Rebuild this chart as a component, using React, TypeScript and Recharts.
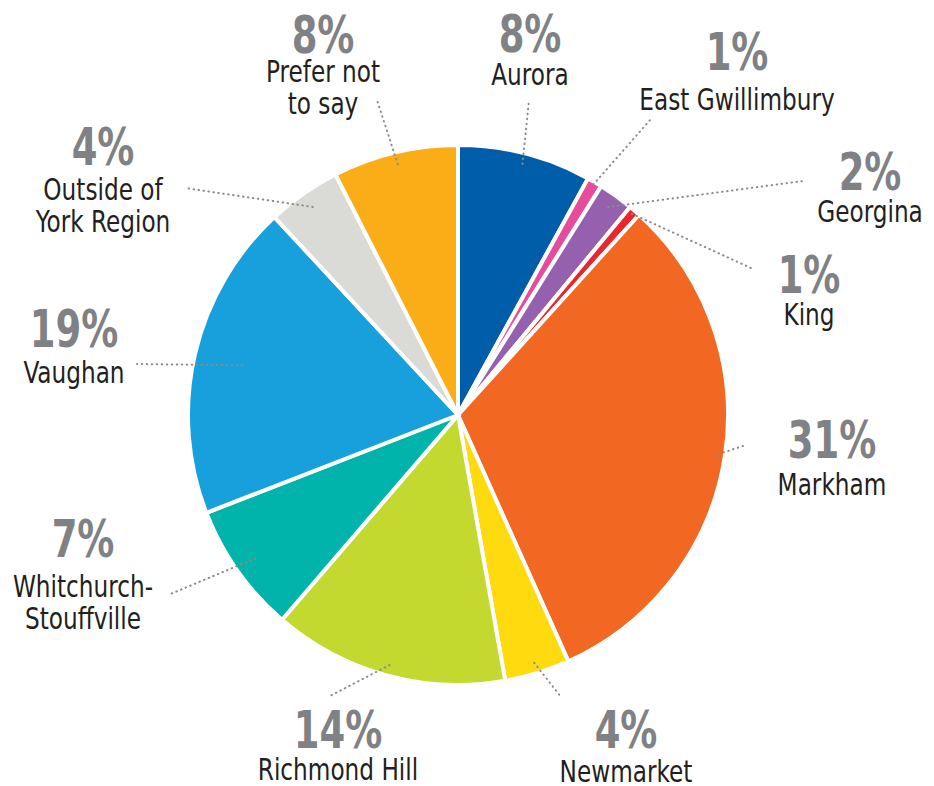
import { Cell, Pie, PieChart } from 'recharts';

const names = [
  'Aurora',
  'East Gwillimbury',
  'Georgina',
  'King',
  'Markham',
  'Newmarket',
  'Richmond Hill',
  'Whitchurch-\nStouffville',
  'Vaughan',
  'Outside of\nYork Region',
  'Prefer not\nto say',
];
const shares = [8, 0.9, 2.1, 0.7, 31.6, 3.9, 14.1, 7.8, 19, 4.4, 7.5];
const shareLabels = ['8%', '1%', '2%', '1%', '31%', '4%', '14%', '7%', '19%', '4%', '8%'];
const colors = [
  '#005DAA',
  '#E54C9C',
  '#9560AD',
  '#E8262B',
  '#F26822',
  '#FFDA0F',
  '#C3D930',
  '#00B4AC',
  '#17A0DB',
  '#DADAD6',
  '#FBAD18',
];

// label placement: leader start radius (fraction of R), leader end, text x, baselines
const labelLayout = [
  { r: 0.96, end: [529, 100], x: 530, pctY: 52, nameY: 85 },
  { r: 0.99, end: [651, 119], x: 737, pctY: 70, nameY: 110 },
  { r: 0.95, end: [803, 181], x: 870, pctY: 190, nameY: 222 },
  { r: 0.985, end: [751, 268], x: 809, pctY: 293, nameY: 325 },
  { r: 0.96, end: [746, 445], x: 832, pctY: 458, nameY: 495 },
  { r: 0.96, end: [561, 697], x: 626, pctY: 748, nameY: 782 },
  { r: 0.96, end: [328, 697], x: 338, pctY: 748, nameY: 780 },
  { r: 0.92, end: [168, 595], x: 83, pctY: 557, nameY: 597 },
  { r: 0.82, end: [137, 364], x: 74, pctY: 347, nameY: 383 },
  { r: 0.94, end: [185, 188], x: 103, pctY: 165, nameY: 200 },
  { r: 0.955, end: [377, 100], x: 323, pctY: 53, nameY: 82 },
];

const data = names.map((name, i) => ({ name, value: shares[i] }));

const FONT = '"DejaVu Sans Condensed", "DejaVu Sans", sans-serif';
const RADIAN = Math.PI / 180;

function renderLabel(props: any) {
  const { cx, cy, midAngle, outerRadius, index } = props;
  const lay = labelLayout[index];
  const sx = cx + outerRadius * lay.r * Math.cos(-midAngle * RADIAN);
  const sy = cy + outerRadius * lay.r * Math.sin(-midAngle * RADIAN);
  const lines = names[index].split('\n');
  return (
    <g key={`lbl-${index}`}>
      <line
        x1={sx}
        y1={sy}
        x2={lay.end[0]}
        y2={lay.end[1]}
        stroke="#8a8a8a"
        strokeWidth={2}
        strokeDasharray="0.5 4.5"
        strokeLinecap="round"
      />
      <text
        transform={`translate(${lay.x},${lay.pctY}) scale(0.79,1)`}
        x={0}
        y={0}
        textAnchor="middle"
        fontFamily={FONT}
        fontWeight="bold"
        fontSize={52}
        fill="#808184"
      >
        {shareLabels[index]}
      </text>
      {lines.map((ln, j) => (
        <text
          key={j}
          transform={`translate(${lay.x},${lay.nameY + j * 32}) scale(0.86,1)`}
          x={0}
          y={0}
          textAnchor="middle"
          fontFamily={FONT}
          fontSize={30}
          fill="#231F20"
        >
          {ln}
        </text>
      ))}
    </g>
  );
}

export default function App() {
  return (
    <div style={{ position: 'absolute', left: 0, top: 0, background: '#fff' }}>
      <PieChart width={934} height={786} margin={{ top: 0, right: 0, bottom: 0, left: 0 }}>
        <Pie
          data={data}
          dataKey="value"
          nameKey="name"
          cx={458}
          cy={415}
          outerRadius={270}
          startAngle={90}
          endAngle={-270}
          stroke="#fff"
          strokeWidth={4}
          label={renderLabel}
          labelLine={false}
          isAnimationActive={false}
        >
          {data.map((d, i) => (
            <Cell key={d.name} fill={colors[i]} />
          ))}
        </Pie>
      </PieChart>
    </div>
  );
}
